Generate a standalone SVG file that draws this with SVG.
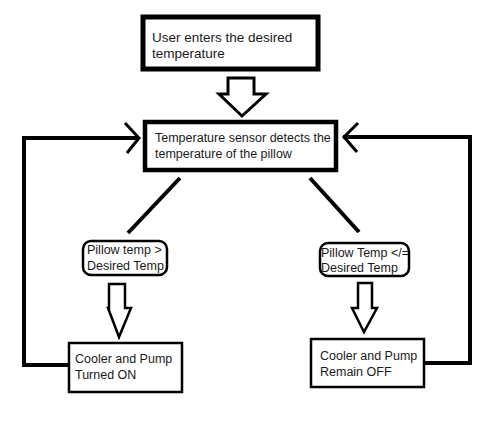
<svg xmlns="http://www.w3.org/2000/svg" width="502" height="424" viewBox="0 0 502 424">
<style>
text{font-family:"Liberation Sans",Arial,sans-serif;font-size:12.5px;fill:#1a1a1a}
.big{font-size:13.5px}
.box{fill:#fff;stroke:#000}
.line{fill:none;stroke:#000;stroke-width:4;stroke-linecap:butt;stroke-linejoin:miter}
.blk{fill:#fff;stroke:#000;stroke-width:3;stroke-linejoin:miter}
</style>
<rect width="502" height="424" fill="#fff"/>
<g id="connectors">
<polygon class="blk" points="228,78 254,78 254,94 266,94 242,116 219,94 228,94"/>
<line class="line" x1="180" y1="178" x2="128" y2="233"/>
<line class="line" x1="310" y1="178" x2="359" y2="232"/>
<polygon class="blk" style="stroke-width:2.5" points="109,284 125,284 125,308 131,308 119,337 108,308 109,308"/>
<polygon class="blk" style="stroke-width:2.5" points="358,283 372,283 372,308 377,308 364,332 352,308 358,308"/>
<polyline class="line" points="68,365 24,365 24,138 138,138"/>
<polyline class="line" style="stroke-width:3" points="125,123 139,138 127,153"/>
<polyline class="line" points="425,363 470,363 470,137 343,137"/>
<polyline class="line" style="stroke-width:3" points="358,123 344,137 357,152"/>
</g>
<g id="user-input">
<rect class="box" x="143" y="17" width="175" height="52" stroke-width="5"/>
<text class="big" x="152" y="42">User enters the desired</text>
<text class="big" x="152" y="58">temperature</text>
</g>
<g id="sensor">
<rect class="box" x="145" y="122" width="191" height="48" stroke-width="4.5"/>
<text x="155" y="142">Temperature sensor detects the</text>
<text x="155" y="158">temperature of the pillow</text>
</g>
<g id="decision-greater">
<rect class="box" x="83" y="241" width="84" height="34" rx="8" stroke-width="2.5"/>
<text x="87" y="254">Pillow temp &gt;</text>
<text x="87" y="270">Desired Temp</text>
</g>
<g id="decision-lesseq">
<rect class="box" x="320" y="243" width="89" height="33" rx="8" stroke-width="2.5"/>
<text x="321" y="257">Pillow Temp &lt;/=</text>
<text x="321" y="272">Desired Temp</text>
</g>
<g id="turned-on">
<rect class="box" x="69" y="343" width="113" height="49" stroke-width="2.5"/>
<text x="75" y="363">Cooler and Pump</text>
<text x="75" y="379">Turned ON</text>
</g>
<g id="remain-off">
<rect class="box" x="311" y="339" width="113" height="48" stroke-width="2.5"/>
<text x="320" y="360">Cooler and Pump</text>
<text x="320" y="376">Remain OFF</text>
</g>
</svg>
